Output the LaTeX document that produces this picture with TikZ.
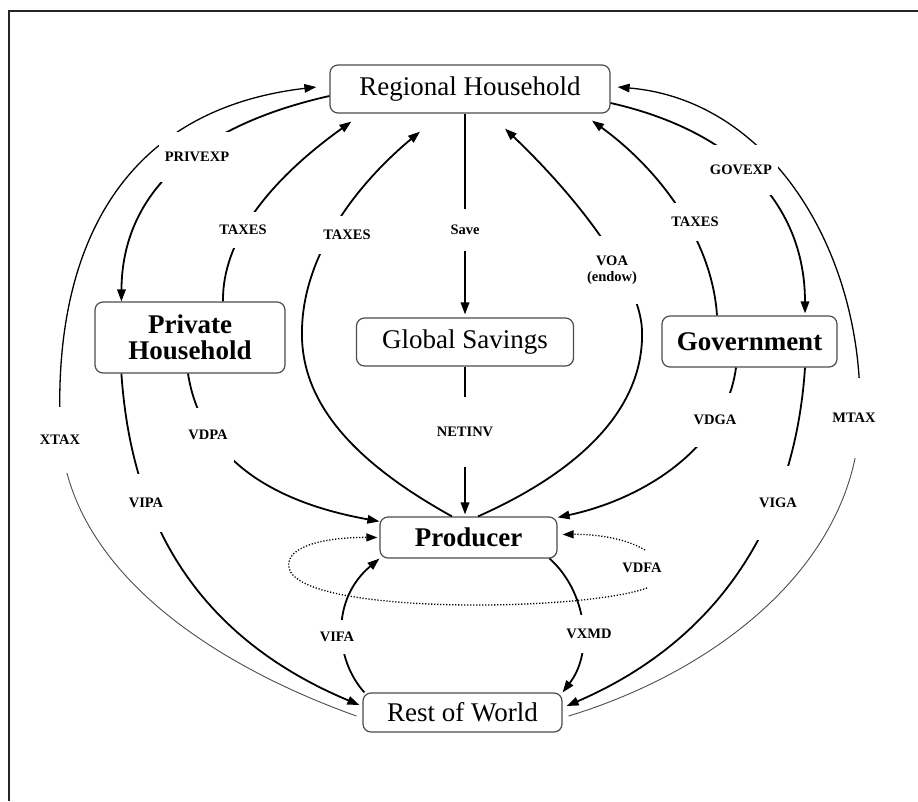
\documentclass[tikz,border=0pt]{standalone}
\usepackage{fontspec}
\setmainfont{Liberation Serif}
\usetikzlibrary{arrows.meta,calc}
\begin{document}
\begin{tikzpicture}[x=1pt,y=-1pt]
\tikzset{
 box/.style={draw=black!70, line width=1.2pt, rounded corners=8pt, fill=white, inner sep=0pt, align=center, font=\fontsize{27}{26}\selectfont},
 boxb/.style={box, font=\fontsize{27}{26}\selectfont\bfseries},
 flow/.style={line width=1.8pt, -{Triangle[length=12pt,width=8.5pt]}},
 thinflow/.style={line width=0.9pt, black!70},
 lbl/.style={fill=white, inner xsep=6pt, inner ysep=14pt, align=center, font=\fontsize{14.5}{16}\selectfont\bfseries},
 dotflow/.style={line width=1.3pt, dash pattern=on 1.2pt off 1.8pt, -{Triangle[length=11pt,width=8pt]}}
}
\useasboundingbox (0,0) rectangle (918,801);
\draw[line width=2.5pt, black!85] (9,801) -- (9,11) -- (918,11);

% boxes
\node[box, minimum width=280pt, minimum height=48pt] (RH) at (470,89) {Regional Household};
\node[boxb, minimum width=190pt, minimum height=71pt] (PH) at (190,337.5) {Private\\Household};
\node[box, minimum width=217pt, minimum height=48pt] (GS) at (465,342) {Global Savings};
\node[boxb, minimum width=175pt, minimum height=51pt] (Gov) at (749.5,341.5) {Government};
\node[boxb, minimum width=177pt, minimum height=41pt] (Prod) at (468.5,537.5) {Producer};
\node[box, minimum width=199pt, minimum height=39pt] (RoW) at (462.5,712.5) {Rest of World};

% XTAX
\coordinate (xtaxM) at (60,420);
\draw[thinflow] ($(RoW.west)+(-6,3.5)$) .. controls (200,660) and (60,560) .. (xtaxM);
\draw[flow, line width=1.3pt] (xtaxM) .. controls (55,250) and (120,110) .. ($(RH.west)+(-13,-2)$);
% PRIVEXP
\draw[flow] ($(RH.west)+(0,7)$) .. controls (200,125) and (122,190) .. ($(PH.north west)+(27,0)$);
% TAXES left
\draw[flow] ($(PH.north)+(33,0)$) .. controls (222,240) and (270,180) .. ($(RH.south west)+(22,8)$);
% TAXES center
\draw[flow] ($(Prod.north)+(-16.5,0)$) .. controls (350,460) and (300,400) .. (302,330) .. controls (303,260) and (350,190) .. ($(RH.south)+(-50,18)$);
% Save
\draw[flow, shorten >=3pt] (GS.north |- RH.south) -- (GS.north);
% NETINV
\draw[flow, shorten >=2pt] (GS.south) -- (GS.south |- Prod.north);
% VOA
\draw[flow] ($(Prod.north)+(9.5,0)$) .. controls (560,480) and (645,420) .. (642,330) .. controls (640,280) and (580,200) .. ($(RH.south)+(35,15)$);
% TAXES right
\draw[flow] ($(Gov.north)+(-32.5,0)$) .. controls (712,240) and (660,170) .. ($(RH.south)+(122,7)$);
% GOVEXP
\draw[flow, shorten >=2pt] ($(RH.east)+(0,14)$) .. controls (730,130) and (805,200) .. ($(Gov.north)+(55.5,0)$);
% MTAX
\coordinate (mtaxM) at (860,410);
\draw[thinflow] ($(RoW.east)+(6,3.5)$) .. controls (720,670) and (860,560) .. (mtaxM);
\draw[flow, line width=1.3pt] (mtaxM) .. controls (862,250) and (770,100) .. ($(RH.east)+(7,-2)$);
% VIPA
\draw[flow] ($(PH.south west)+(27,0)$) .. controls (130,500) and (180,630) .. ($(RoW.west)+(-3,-7.5)$);
% VDPA
\draw[flow] ($(PH.south)+(-2,0)$) .. controls (200,450) and (260,500) .. ($(Prod.north west)+(0,5)$);
% VDGA
\draw[flow] ($(Gov.south)+(-13.5,0)$) .. controls (725,450) and (640,500) .. ($(Prod.north east)+(0,1)$);
% VIGA
\draw[flow] ($(Gov.south)+(55.5,0)$) .. controls (795,520) and (720,640) .. ($(RoW.east)+(4,-6.5)$);
% VIFA
\draw[flow] ($(RoW.north west)+(2,0)$) .. controls (335,660) and (330,600) .. (Prod.south west);
% VXMD
\draw[flow] ($(Prod.south east)+(-8,0)$) .. controls (585,590) and (595,650) .. (RoW.north east);
% VDFA
\coordinate (vdfaA) at (647,588);
\coordinate (vdfaB) at (645,550);
\draw[dotflow] (vdfaA) .. controls (580,612) and (300,615) .. (289,568) .. controls (284,545) and (330,537) .. ($(Prod.west)+(-2,0)$);
\draw[dotflow] (vdfaB) .. controls (625,538) and (595,534) .. ($(Prod.east)+(5,-3)$);

% labels
\node[lbl, inner ysep=20pt] (lPRIVEXP) at (197,157) {PRIVEXP};
\node[lbl, inner ysep=13pt] (lTAXESa) at (243,230) {TAXES};
\node[lbl, inner ysep=14pt] (lTAXESb) at (347,235) {TAXES};
\node[lbl, inner ysep=16pt] (lSave) at (465,230) {Save};
\node[lbl, inner ysep=20pt] (lVOA) at (612,270) {VOA\\(endow)};
\node[lbl, inner ysep=14pt] (lTAXESc) at (695,222) {TAXES};
\node[lbl, inner ysep=20pt] (lGOVEXP) at (741,170) {GOVEXP};
\node[lbl, inner ysep=28pt] (lXTAX) at (60,440) {XTAX};
\node[lbl, inner ysep=24pt] (lVIPA) at (146,503) {VIPA};
\node[lbl, inner ysep=22pt] (lVDPA) at (208,435) {VDPA};
\node[lbl, inner ysep=30pt] (lNETINV) at (465,432) {NETINV};
\node[lbl, inner ysep=22pt] (lVDGA) at (715,420) {VDGA};
\node[lbl, inner ysep=32pt] (lVIGA) at (778,503) {VIGA};
\node[lbl, inner ysep=35pt] (lMTAX) at (854,418) {MTAX};
\node[lbl, inner ysep=12pt] (lVDFA) at (642,568) {VDFA};
\node[lbl, inner ysep=12pt] (lVIFA) at (337,637) {VIFA};
\node[lbl, inner ysep=14pt] (lVXMD) at (589,634) {VXMD};
\end{tikzpicture}
\end{document}
